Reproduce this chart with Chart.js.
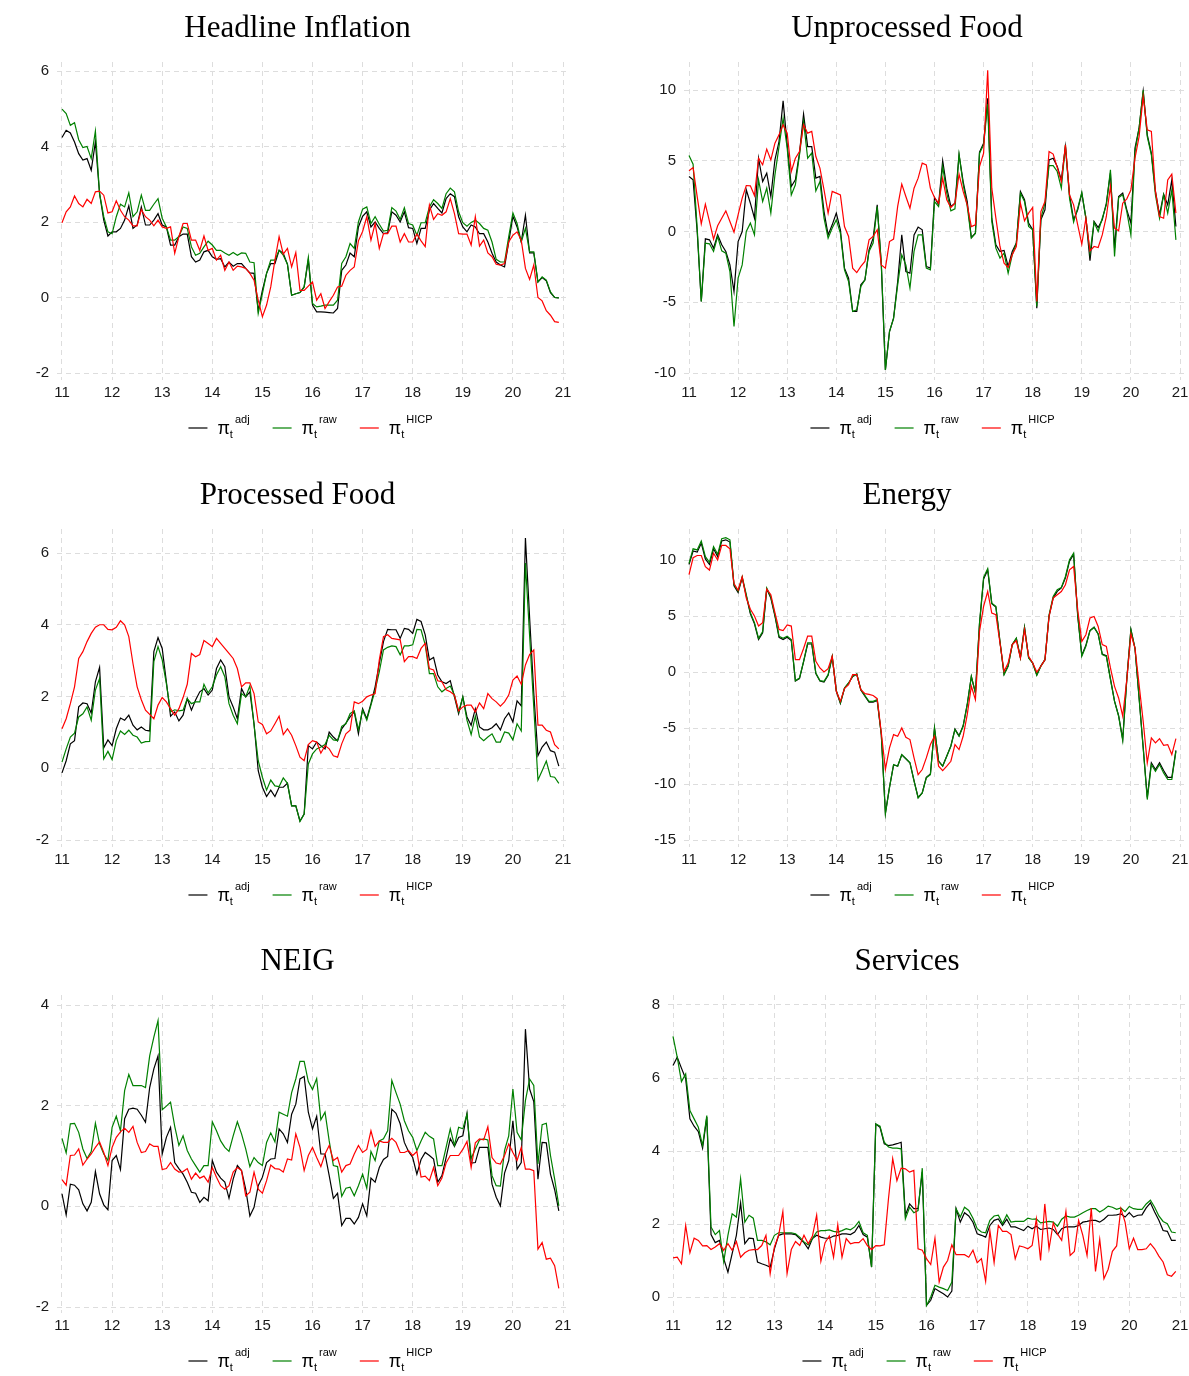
<!DOCTYPE html>
<html>
<head>
<meta charset="utf-8">
<script src="https://cdn.jsdelivr.net/npm/chart.js@4.4.1/dist/chart.umd.min.js"></script>
<style>
  html, body { margin: 0; padding: 0; background: #ffffff; }
  body { width: 1189px; height: 1376px; position: relative; overflow: hidden; }
  .panel { position: absolute; }
  .panel canvas { display: block; }
</style>
</head>
<body>
<div class="panel" style="left:0px;top:0px;"><canvas id="p0" width="595" height="443"></canvas></div>
<div class="panel" style="left:625px;top:0px;"><canvas id="p1" width="564" height="443"></canvas></div>
<div class="panel" style="left:0px;top:467px;"><canvas id="p2" width="595" height="443"></canvas></div>
<div class="panel" style="left:625px;top:467px;"><canvas id="p3" width="564" height="443"></canvas></div>
<div class="panel" style="left:0px;top:933px;"><canvas id="p4" width="595" height="443"></canvas></div>
<div class="panel" style="left:625px;top:933px;"><canvas id="p5" width="564" height="443"></canvas></div>
<script>
// Monthly year-on-year rates, Jan 2011 .. Dec 2020 (120 months each)
const startYear = 11;
const yearTicks = [11, 12, 13, 14, 15, 16, 17, 18, 19, 20, 21];

// ---- Headline inflation ----
const headlineAdj = [
  4.24, 4.43, 4.36, 4.12, 3.81, 3.64, 3.68, 3.37, 4.12, 2.75, 2.05, 1.63,
  1.74, 1.74, 1.83, 2.05, 2.43, 1.83, 1.92, 2.40, 1.92, 1.92, 2.05, 2.22,
  1.92, 1.87, 1.39, 1.39, 1.61, 1.68, 1.68, 1.08, 0.94, 0.99, 1.21, 1.25,
  1.08, 1.01, 1.03, 0.81, 0.94, 0.83, 0.90, 0.90, 0.77, 0.65, 0.64, -0.35,
  0.19, 0.64, 0.90, 0.90, 1.25, 1.17, 0.88, 0.06, 0.10, 0.13, 0.28, 1.00,
  -0.20, -0.38, -0.38, -0.39, -0.40, -0.41, -0.29, 0.72, 0.86, 1.18, 1.08, 1.87,
  2.15, 2.27, 1.87, 2.00, 1.83, 1.69, 1.71, 2.27, 2.18, 2.00, 2.27, 1.85,
  1.83, 1.43, 1.83, 1.83, 2.31, 2.49, 2.36, 2.24, 2.62, 2.75, 2.67, 2.14,
  1.87, 1.74, 1.92, 1.87, 1.69, 1.69, 1.47, 1.17, 0.94, 0.86, 0.81, 1.47,
  2.15, 1.87, 1.47, 2.18, 1.18, 1.18, 0.41, 0.53, 0.44, 0.13, 0.00, -0.01
];
const headlineRaw = [
  4.99, 4.87, 4.56, 4.63, 4.18, 3.97, 4.00, 3.68, 4.41, 2.75, 2.14, 1.74,
  1.69, 2.14, 2.47, 2.40, 2.77, 2.14, 2.27, 2.71, 2.31, 2.31, 2.47, 2.62,
  2.10, 1.87, 1.52, 1.52, 1.62, 1.87, 1.83, 1.34, 1.12, 1.17, 1.34, 1.49,
  1.39, 1.25, 1.25, 1.18, 1.12, 1.19, 1.12, 1.18, 1.17, 0.94, 0.92, -0.42,
  0.10, 0.64, 0.99, 0.99, 1.25, 1.12, 0.88, 0.06, 0.10, 0.13, 0.28, 1.06,
  -0.16, -0.25, -0.23, -0.20, -0.20, -0.20, -0.07, 0.90, 1.08, 1.43, 1.30, 2.00,
  2.34, 2.40, 1.96, 2.14, 1.94, 1.76, 1.78, 2.38, 2.29, 2.07, 2.38, 1.96,
  1.92, 1.65, 1.98, 1.98, 2.40, 2.59, 2.49, 2.36, 2.75, 2.90, 2.80, 2.27,
  1.98, 1.89, 1.99, 2.05, 1.96, 1.83, 1.78, 1.47, 1.01, 0.94, 0.94, 1.61,
  2.24, 1.96, 1.47, 1.83, 1.21, 1.21, 0.41, 0.55, 0.46, 0.15, 0.00, -0.01
];
const headlineHicp = [
  1.98, 2.27, 2.40, 2.69, 2.49, 2.40, 2.60, 2.49, 2.80, 2.82, 2.71, 2.24,
  2.27, 2.56, 2.31, 2.14, 2.05, 1.90, 1.90, 2.33, 2.14, 2.05, 1.90, 2.05,
  1.87, 1.83, 1.87, 1.17, 1.61, 1.96, 1.96, 1.52, 1.52, 1.25, 1.63, 1.25,
  1.30, 0.99, 1.12, 0.72, 0.94, 0.72, 0.83, 0.81, 0.77, 0.64, 0.46, -0.07,
  -0.51, -0.20, 0.28, 0.99, 1.61, 1.15, 1.30, 0.81, 1.19, 0.19, 0.19, 0.30,
  0.41, -0.07, 0.10, -0.29, -0.11, 0.06, 0.28, 0.30, 0.59, 0.72, 0.81, 1.50,
  1.75, 2.14, 1.52, 1.96, 1.30, 1.69, 1.69, 1.89, 1.89, 1.47, 1.69, 1.47,
  1.47, 1.68, 1.50, 1.35, 2.45, 2.07, 2.22, 2.18, 2.27, 2.62, 2.22, 1.69,
  1.68, 1.68, 1.39, 2.14, 1.36, 1.52, 1.18, 1.08, 0.88, 0.86, 0.90, 1.47,
  1.65, 1.74, 1.52, 0.77, 0.48, 0.86, 0.00, -0.09, -0.35, -0.47, -0.64, -0.66
];
const headlineTicks = [-2, 0, 2, 4, 6];

// ---- Unprocessed food ----
const unprocAdj = [
  3.89, 3.65, 0.00, -4.95, -0.52, -0.59, -1.18, -0.24, -0.94, -1.41, -2.36, -4.24,
  -0.71, 0.00, 2.94, 2.00, 0.94, 5.18, 3.53, 4.12, 2.47, 5.06, 6.36, 9.23,
  6.12, 3.18, 3.65, 5.54, 8.29, 6.00, 6.00, 3.77, 3.89, 1.41, -0.24, 0.47,
  1.30, 0.12, -2.59, -3.30, -5.65, -5.65, -3.77, -3.42, -1.30, -0.47, 1.88, -2.36,
  -9.78, -7.07, -6.12, -3.53, -0.24, -2.83, -2.94, -0.24, 0.31, 0.12, -2.47, -2.59,
  2.40, 1.90, 5.00, 3.06, 1.77, 2.00, 5.42, 3.53, 2.12, -0.42, -0.12, 5.60,
  6.24, 9.42, 0.94, -0.94, -1.41, -1.34, -2.47, -1.41, -0.82, 2.83, 2.24, 0.59,
  0.12, -5.42, 0.82, 1.53, 5.06, 5.18, 4.59, 3.65, 6.00, 2.59, 0.82, 1.53,
  2.71, 0.94, -2.07, 0.71, 0.28, 0.82, 2.00, 4.12, -1.18, 2.47, 2.71, 1.53,
  0.59, 5.89, 7.30, 9.90, 6.83, 5.54, 2.83, 1.18, 2.64, 1.88, 3.65, 0.35
];
const unprocRaw = [
  5.37, 4.76, 0.24, -4.95, -0.82, -0.87, -1.41, -0.35, -1.37, -1.53, -2.83, -6.71,
  -3.30, -2.36, 0.00, 0.59, -0.24, 3.65, 2.12, 3.06, 1.30, 4.00, 6.00, 8.00,
  5.89, 2.59, 3.30, 5.42, 7.77, 5.18, 5.54, 2.87, 3.53, 0.94, -0.47, 0.24,
  0.82, -0.12, -2.71, -3.53, -5.65, -5.54, -3.89, -3.42, -1.41, -0.82, 1.77, -2.24,
  -9.78, -7.07, -6.12, -3.77, -1.65, -2.36, -4.00, -1.41, -0.24, -0.24, -2.59, -2.71,
  2.12, 1.77, 4.59, 2.71, 1.46, 1.60, 5.47, 3.35, 1.77, -0.47, -0.12, 5.54,
  6.12, 9.00, 0.71, -1.18, -1.88, -1.53, -2.94, -1.65, -0.82, 2.71, 2.12, 0.35,
  0.12, -5.30, 0.94, 2.00, 4.66, 4.66, 4.24, 3.06, 6.12, 2.36, 0.66, 1.65,
  2.76, 0.94, -1.53, 0.66, 0.00, 0.94, 1.88, 4.36, -1.77, 2.40, 2.59, 1.41,
  -0.24, 5.65, 7.30, 10.00, 6.71, 5.42, 2.59, 0.94, 2.59, 1.30, 2.94, -0.59
];
const unprocHicp = [
  4.29, 4.52, 2.47, 0.54, 1.93, 0.71, -0.54, 0.40, 0.94, 1.46, 0.71, -0.05,
  1.18, 2.36, 3.25, 3.23, 2.54, 5.18, 4.71, 5.82, 5.06, 6.24, 6.83, 7.54,
  6.95, 4.24, 5.18, 5.65, 7.54, 6.95, 7.07, 5.30, 4.48, 2.94, 1.30, 2.83,
  2.71, 2.59, 0.35, -0.35, -2.59, -2.90, -2.47, -2.12, -0.59, -0.35, 0.12, -2.36,
  -2.59, -0.71, -0.54, 1.77, 3.35, 2.47, 1.65, 3.06, 3.77, 4.83, 4.71, 3.06,
  2.40, 2.00, 3.77, 2.24, 1.70, 2.00, 4.05, 2.83, 1.88, 0.35, 0.47, 4.59,
  5.54, 11.40, 3.06, 0.94, -1.06, -2.24, -2.54, -1.65, -1.06, 2.00, 0.75, 1.30,
  1.70, -4.95, 1.41, 2.12, 5.65, 5.47, 4.52, 3.53, 6.12, 2.59, 1.88, 0.47,
  -0.90, 0.94, -1.37, -1.06, -1.13, -0.24, 1.06, 3.18, 0.24, 0.05, 2.00, 2.31,
  2.94, 5.18, 6.71, 9.54, 7.18, 7.07, 2.83, 1.06, 0.94, 3.65, 4.05, 1.30
];
const unprocTicks = [-10, -5, 0, 5, 10];

// ---- Processed food ----
const procAdj = [
  -0.13, 0.21, 0.68, 0.77, 1.71, 1.82, 1.80, 1.54, 2.41, 2.81, 0.57, 0.79,
  0.63, 1.10, 1.40, 1.34, 1.48, 1.20, 1.07, 1.15, 1.06, 1.04, 3.25, 3.64,
  3.34, 2.41, 1.45, 1.57, 1.32, 1.48, 1.94, 1.62, 1.90, 2.13, 2.22, 2.04,
  2.18, 2.78, 3.02, 2.83, 1.99, 1.71, 1.38, 2.22, 1.99, 2.13, 1.24, -0.07,
  -0.53, -0.79, -0.61, -0.79, -0.53, -0.53, -0.42, -1.05, -1.05, -1.47, -1.28, 0.63,
  0.54, 0.73, 0.63, 0.54, 1.01, 0.87, 0.76, 1.10, 1.26, 1.43, 1.57, 0.96,
  1.66, 1.38, 1.80, 2.27, 2.92, 3.53, 3.87, 3.86, 3.86, 3.62, 3.90, 3.87,
  3.76, 4.15, 4.09, 3.72, 3.02, 3.09, 2.60, 2.41, 2.36, 2.44, 1.99, 1.52,
  1.99, 1.43, 1.20, 1.66, 1.15, 1.07, 1.07, 1.13, 1.24, 1.07, 1.38, 1.54,
  1.29, 1.88, 1.74, 6.42, 4.20, 2.10, 0.35, 0.59, 0.73, 0.49, 0.45, 0.06
];
const procRaw = [
  0.17, 0.54, 0.87, 0.98, 1.43, 1.52, 1.71, 1.34, 2.18, 2.50, 0.26, 0.47,
  0.24, 0.77, 1.04, 0.94, 1.06, 0.92, 0.87, 0.70, 0.74, 0.75, 2.97, 3.39,
  3.02, 2.36, 1.57, 1.63, 1.60, 1.62, 1.94, 1.80, 1.85, 1.85, 2.34, 2.10,
  2.27, 2.60, 2.83, 2.55, 1.80, 1.48, 1.24, 2.08, 1.99, 2.30, 1.20, 0.21,
  -0.25, -0.61, -0.33, -0.49, -0.51, -0.27, -0.42, -1.05, -1.05, -1.48, -1.28, 0.12,
  0.40, 0.54, 0.59, 0.66, 0.92, 0.79, 0.77, 1.17, 1.24, 1.52, 1.60, 1.07,
  1.62, 1.34, 1.76, 2.18, 2.69, 3.30, 3.37, 3.41, 3.39, 3.16, 3.41, 3.41,
  3.44, 3.87, 3.86, 3.44, 2.64, 2.64, 2.27, 2.13, 2.22, 2.29, 2.04, 1.57,
  1.99, 1.34, 0.94, 1.45, 0.87, 0.77, 0.87, 0.96, 0.73, 0.73, 1.01, 0.98,
  0.79, 1.24, 1.04, 5.72, 3.70, 1.70, -0.33, -0.07, 0.20, -0.23, -0.25, -0.42
];
const procHicp = [
  1.10, 1.38, 1.80, 2.27, 3.06, 3.25, 3.53, 3.76, 3.93, 4.00, 4.00, 3.87,
  3.86, 3.93, 4.11, 4.00, 3.67, 2.92, 2.27, 1.91, 1.62, 1.50, 1.38, 1.76,
  1.97, 1.85, 1.66, 1.48, 1.66, 1.97, 2.34, 3.20, 3.11, 3.17, 3.56, 3.48,
  3.39, 3.62, 3.48, 3.34, 3.20, 3.06, 2.78, 2.27, 2.38, 2.38, 2.08, 1.29,
  1.22, 0.96, 1.04, 1.24, 1.45, 0.94, 1.10, 0.92, 0.63, 0.31, 0.21, 0.66,
  0.77, 0.73, 0.42, 0.63, 0.54, 0.35, 0.31, 0.68, 0.96, 1.06, 1.85, 1.80,
  1.87, 1.99, 2.04, 2.08, 3.02, 3.67, 3.72, 3.62, 3.60, 3.58, 2.97, 3.11,
  3.11, 3.06, 3.34, 3.48, 2.78, 2.74, 2.44, 2.41, 2.19, 2.13, 2.04, 1.60,
  1.71, 1.76, 1.76, 1.57, 1.82, 1.66, 2.08, 1.94, 1.85, 1.73, 1.85, 2.04,
  2.46, 2.57, 2.34, 2.88, 3.17, 3.30, 1.20, 1.20, 1.06, 1.01, 0.66, 0.54
];
const procTicks = [-2, 0, 2, 4, 6];

// ---- Energy ----
const energyAdj = [
  9.6, 10.8, 10.7, 11.5, 10.1, 9.6, 11.0, 10.3, 11.7, 11.8, 11.6, 7.7,
  7.1, 8.4, 6.8, 5.2, 4.3, 2.9, 3.5, 7.4, 6.6, 5.0, 3.1, 2.9,
  3.1, 2.8, -0.8, -0.6, 0.9, 2.5, 2.5, -0.15, -0.8, -0.9, -0.3, 1.35,
  -1.7, -2.8, -1.45, -1.0, -0.4, -0.2, -1.6, -2.15, -2.7, -2.7, -2.55, -5.6,
  -12.6, -10.3, -8.3, -8.4, -7.4, -7.75, -8.1, -9.7, -11.2, -10.8, -9.4, -9.1,
  -5.0, -7.95, -8.4, -7.5, -6.6, -5.1, -5.7, -4.8, -2.9, -0.4, -1.85, 4.3,
  8.3, 9.1, 6.1, 5.8, 2.7, -0.2, 0.55, 2.45, 3.0, 1.3, 4.0, 1.3,
  0.8, -0.25, 0.55, 1.1, 5.0, 6.6, 7.2, 7.5, 8.4, 9.9, 10.5, 5.0,
  1.5, 2.4, 3.7, 4.0, 3.4, 1.6, 1.45, -0.6, -2.6, -3.9, -6.0, -0.6,
  3.8, 2.1, -2.3, -6.7, -11.2, -8.1, -8.7, -8.1, -8.8, -9.4, -9.4, -7.0
];
const energyRaw = [
  9.7, 11.0, 10.9, 11.7, 10.3, 9.8, 11.2, 10.5, 11.9, 12.0, 11.8, 7.8,
  7.2, 8.5, 6.9, 5.3, 4.4, 3.0, 3.6, 7.5, 6.7, 5.1, 3.2, 3.0,
  3.2, 2.9, -0.77, -0.54, 0.95, 2.6, 2.6, -0.09, -0.77, -0.83, -0.24, 1.4,
  -1.66, -2.76, -1.43, -0.98, -0.39, -0.18, -1.58, -2.11, -2.62, -2.62, -2.47, -5.59,
  -12.66, -10.3, -8.26, -8.41, -7.37, -7.73, -8.1, -9.75, -11.24, -10.79, -9.45, -9.16,
  -4.99, -7.97, -8.41, -7.52, -6.63, -5.14, -5.74, -4.85, -2.91, -0.39, -1.87, 4.37,
  8.44, 9.22, 6.15, 5.86, 2.73, -0.24, 0.51, 2.44, 3.03, 1.25, 3.98, 1.25,
  0.8, -0.3, 0.51, 1.1, 5.11, 6.75, 7.34, 7.55, 8.53, 10.02, 10.61, 5.11,
  1.4, 2.29, 3.69, 3.98, 3.39, 1.55, 1.4, -0.68, -2.62, -3.95, -6.12, -0.68,
  3.78, 2.14, -2.32, -6.78, -11.39, -8.26, -8.86, -8.26, -9.01, -9.6, -9.6, -7.08
];
const energyHicp = [
  8.7, 10.2, 10.4, 10.4, 9.4, 9.1, 10.6, 10.0, 11.3, 11.3, 11.0, 7.9,
  7.3, 8.5, 6.6, 5.6, 5.0, 4.1, 4.4, 7.4, 6.9, 5.3, 3.8, 3.7,
  4.2, 4.1, 1.1, 1.1, 2.1, 3.2, 3.2, 0.95, 0.36, 0.0, 0.3, 1.4,
  -1.72, -2.62, -1.49, -1.13, -0.24, -0.24, -1.58, -1.93, -2.0, -2.1, -2.38, -5.44,
  -8.7, -6.78, -5.59, -5.74, -4.99, -5.83, -6.03, -7.67, -9.16, -8.71, -7.67, -6.48,
  -5.74, -8.41, -8.8, -8.41, -7.97, -6.48, -6.93, -5.74, -3.8, -1.28, -2.47, 3.63,
  5.86, 7.19, 5.26, 5.11, 2.59, 0.06, 0.8, 2.44, 2.79, 1.25, 3.78, 1.4,
  0.8, 0.0, 0.51, 1.1, 4.96, 6.6, 6.9, 7.19, 7.79, 9.13, 9.42, 5.56,
  2.73, 3.33, 4.82, 4.96, 4.07, 2.44, 2.29, 0.36, -1.28, -2.32, -3.95, -0.68,
  3.39, 2.14, -1.13, -4.4, -8.12, -5.89, -6.33, -5.95, -6.54, -6.48, -7.37, -5.95
];
const energyTicks = [-15, -10, -5, 0, 5, 10];

// ---- Non-energy industrial goods ----
const neigAdj = [
  0.25, -0.17, 0.44, 0.42, 0.33, 0.05, -0.09, 0.08, 0.69, 0.25, 0.03, -0.07,
  0.91, 1.01, 0.73, 1.74, 1.93, 1.95, 1.93, 1.81, 1.67, 2.36, 2.73, 2.99,
  1.04, 1.37, 1.57, 0.87, 0.75, 0.64, 0.48, 0.28, 0.26, 0.08, 0.18, 0.11,
  0.91, 0.68, 0.56, 0.48, 0.16, 0.54, 0.81, 0.71, 0.34, -0.19, -0.02, 0.41,
  0.58, 0.87, 0.94, 0.95, 1.54, 1.44, 1.27, 1.83, 2.03, 2.53, 2.58, 1.87,
  1.54, 1.79, 1.04, 1.04, 0.61, 0.16, 0.26, -0.38, -0.24, -0.24, -0.35, -0.22,
  0.05, -0.19, 0.56, 0.48, 0.77, 0.93, 0.99, 1.93, 1.85, 1.64, 1.27, 1.09,
  0.97, 0.64, 0.93, 1.07, 1.01, 0.94, 0.48, 0.61, 0.97, 1.35, 1.19, 1.37,
  1.40, 1.85, 0.86, 0.87, 1.17, 1.17, 1.17, 0.44, 0.18, 0.01, 0.66, 0.91,
  1.70, 0.74, 0.87, 3.52, 2.33, 2.08, 0.54, 1.27, 1.26, 0.64, 0.33, -0.09
];
const neigRaw = [
  1.35, 1.06, 1.64, 1.65, 1.47, 1.14, 0.95, 1.09, 1.65, 1.24, 1.04, 0.91,
  1.57, 1.79, 1.50, 2.30, 2.62, 2.40, 2.40, 2.40, 2.36, 2.99, 3.36, 3.69,
  1.92, 1.99, 2.07, 1.59, 1.21, 1.40, 1.11, 0.94, 0.81, 0.68, 0.81, 0.81,
  1.68, 1.50, 1.30, 1.17, 1.09, 1.40, 1.68, 1.44, 1.14, 0.79, 0.97, 0.87,
  0.81, 1.27, 1.46, 1.28, 1.87, 1.83, 1.79, 2.26, 2.53, 2.88, 2.88, 2.48,
  2.32, 2.54, 1.72, 1.87, 1.30, 0.81, 0.79, 0.20, 0.36, 0.38, 0.21, 0.41,
  0.64, 0.36, 1.09, 0.91, 1.30, 1.34, 1.50, 2.50, 2.26, 2.03, 1.70, 1.50,
  1.37, 1.11, 1.30, 1.47, 1.39, 1.34, 0.81, 0.81, 1.17, 1.54, 1.21, 1.57,
  1.54, 1.83, 0.95, 1.14, 1.32, 1.34, 1.32, 0.61, 0.41, 0.40, 1.11, 1.40,
  2.33, 1.47, 1.32, 2.10, 2.53, 2.40, 0.84, 1.62, 1.65, 1.01, 0.54, 0.01
];
const neigHicp = [
  0.53, 0.42, 1.01, 1.02, 1.14, 0.82, 0.94, 1.04, 1.17, 1.28, 1.07, 0.81,
  1.17, 1.37, 1.48, 1.55, 1.47, 1.59, 1.27, 1.07, 1.09, 1.24, 1.19, 1.19,
  0.73, 0.75, 0.87, 0.74, 0.68, 0.69, 0.75, 0.54, 0.66, 0.56, 0.60, 0.48,
  0.77, 0.58, 0.41, 0.34, 0.41, 0.68, 0.77, 0.71, 0.21, 0.28, 0.68, 0.34,
  0.26, 0.51, 0.82, 0.75, 0.74, 0.68, 0.94, 0.92, 1.44, 1.17, 0.71, 1.01,
  1.17, 0.97, 0.79, 1.04, 1.21, 0.91, 0.97, 0.68, 0.81, 0.84, 1.04, 1.21,
  1.07, 1.13, 1.50, 1.19, 1.30, 1.27, 1.27, 1.35, 1.27, 1.07, 1.07, 1.11,
  1.01, 1.09, 0.58, 0.60, 0.51, 0.77, 0.41, 0.56, 0.86, 1.01, 1.01, 1.01,
  1.13, 1.29, 0.77, 1.26, 1.34, 1.32, 1.58, 0.97, 0.86, 0.84, 1.01, 1.24,
  1.07, 0.91, 1.17, 0.74, 0.74, 0.71, -0.85, -0.72, -1.05, -1.03, -1.18, -1.63
];
const neigTicks = [-2, 0, 2, 4];

// ---- Services ----
const servAdj = [
  6.34, 6.57, 6.27, 5.98, 4.88, 4.68, 4.53, 4.08, 4.93, 1.71, 1.49, 1.55,
  1.05, 0.68, 1.19, 1.69, 2.58, 1.46, 1.61, 1.60, 0.96, 0.91, 0.87, 0.82,
  1.32, 1.69, 1.73, 1.73, 1.73, 1.71, 1.60, 1.49, 1.32, 1.60, 1.69, 1.64,
  1.61, 1.61, 1.67, 1.69, 1.73, 1.73, 1.71, 1.78, 1.96, 1.71, 1.64, 0.82,
  4.74, 4.65, 4.20, 4.15, 4.17, 4.20, 4.24, 2.24, 2.55, 2.42, 2.42, 3.42,
  -0.23, -0.09, 0.23, 0.16, 0.09, 0.00, 0.16, 2.42, 2.05, 2.31, 2.22, 2.05,
  1.73, 1.69, 1.64, 1.96, 2.10, 2.14, 1.96, 2.13, 1.92, 1.92, 1.87, 1.82,
  1.94, 1.87, 1.94, 1.85, 1.87, 1.89, 1.85, 1.71, 1.87, 1.92, 1.92, 1.92,
  1.96, 2.05, 2.07, 2.10, 2.10, 2.05, 2.13, 2.24, 2.24, 2.25, 2.28, 2.19,
  2.31, 2.19, 2.24, 2.25, 2.44, 2.58, 2.33, 2.10, 1.82, 1.80, 1.55, 1.55
];
const servRaw = [
  7.14, 6.57, 5.90, 6.11, 5.11, 4.88, 4.65, 4.15, 4.97, 1.92, 1.71, 1.82,
  0.96, 1.69, 2.28, 2.19, 3.24, 2.05, 2.24, 2.16, 1.55, 1.55, 1.51, 1.43,
  1.69, 1.76, 1.76, 1.76, 1.76, 1.73, 1.64, 1.51, 1.43, 1.60, 1.78, 1.82,
  1.82, 1.84, 1.80, 1.78, 1.82, 1.87, 1.84, 1.92, 2.07, 1.76, 1.69, 0.82,
  4.74, 4.68, 4.24, 4.11, 4.08, 4.08, 4.06, 2.14, 2.46, 2.31, 2.37, 3.53,
  -0.23, 0.00, 0.32, 0.27, 0.23, 0.18, 0.41, 2.42, 2.19, 2.46, 2.37, 2.16,
  1.87, 1.78, 1.76, 2.10, 2.22, 2.24, 2.01, 2.25, 2.05, 2.07, 2.07, 2.07,
  2.16, 2.13, 2.14, 2.03, 2.05, 2.07, 2.05, 1.94, 2.13, 2.22, 2.19, 2.19,
  2.24, 2.31, 2.37, 2.42, 2.42, 2.33, 2.40, 2.49, 2.46, 2.40, 2.44, 2.34,
  2.48, 2.42, 2.40, 2.40, 2.55, 2.65, 2.46, 2.22, 2.07, 2.01, 1.78, 1.76
];
const servHicp = [
  1.07, 1.09, 0.91, 1.96, 1.21, 1.61, 1.55, 1.40, 1.41, 1.30, 1.37, 1.46,
  1.28, 1.46, 1.28, 1.52, 1.09, 1.21, 1.28, 1.30, 1.30, 1.41, 1.69, 0.64,
  1.37, 1.69, 2.34, 0.64, 1.30, 1.52, 1.41, 1.69, 1.46, 1.67, 2.24, 0.98,
  1.49, 1.67, 1.09, 1.98, 1.09, 1.60, 1.46, 1.49, 1.49, 1.60, 1.41, 1.30,
  1.41, 1.40, 1.43, 2.69, 3.79, 3.19, 3.53, 3.51, 3.42, 3.47, 1.32, 1.28,
  1.05, 0.89, 1.61, 0.41, 0.82, 1.00, 1.43, 1.16, 1.16, 1.16, 1.09, 1.28,
  0.94, 1.05, 0.43, 1.82, 0.94, 1.96, 1.80, 1.80, 1.71, 1.05, 1.40, 1.37,
  1.32, 1.41, 2.14, 1.00, 2.55, 1.32, 2.03, 1.73, 1.55, 2.34, 1.14, 1.25,
  2.10, 1.69, 1.14, 2.44, 0.70, 1.58, 0.50, 0.76, 1.25, 1.40, 2.42, 2.05,
  1.32, 1.61, 1.30, 1.30, 1.32, 1.46, 1.32, 1.12, 0.96, 0.61, 0.57, 0.70
];
const servTicks = [0, 2, 4, 6, 8];

// ---- Panel setup ----
const COLORS = { adj: '#000000', raw: '#008000', hicp: '#ff0000' };
const SANS = '"Liberation Sans", Arial, sans-serif';
const SERIF = '"Liberation Serif", "Times New Roman", serif';
const AREA_TOP = 62, AREA_BOTTOM = 380, X_AXIS_H = 30;

// calib: two tick values and the pixel rows they sit on inside the panel
const panels = [
  { canvas: 'p0', title: 'Headline Inflation', adj: headlineAdj, raw: headlineRaw, hicp: headlineHicp,
    ticks: headlineTicks, calib: [6, 71, -2, 373], areaLeft: 57, areaRight: 568 },
  { canvas: 'p1', title: 'Unprocessed Food', adj: unprocAdj, raw: unprocRaw, hicp: unprocHicp,
    ticks: unprocTicks, calib: [10, 90, -10, 373], areaLeft: 59, areaRight: 560 },
  { canvas: 'p2', title: 'Processed Food', adj: procAdj, raw: procRaw, hicp: procHicp,
    ticks: procTicks, calib: [6, 86, -2, 373], areaLeft: 57, areaRight: 568 },
  { canvas: 'p3', title: 'Energy', adj: energyAdj, raw: energyRaw, hicp: energyHicp,
    ticks: energyTicks, calib: [10, 93, -15, 373], areaLeft: 59, areaRight: 560 },
  { canvas: 'p4', title: 'NEIG', adj: neigAdj, raw: neigRaw, hicp: neigHicp,
    ticks: neigTicks, calib: [4, 72, -2, 374], areaLeft: 57, areaRight: 568 },
  { canvas: 'p5', title: 'Services', adj: servAdj, raw: servRaw, hicp: servHicp,
    ticks: servTicks, calib: [8, 72, 0, 364], areaLeft: 43, areaRight: 560 }
];

function toPoints(values) {
  return values.map((v, i) => ({ x: startYear + i / 12, y: v }));
}

// Serif panel heading, centred over the whole canvas
const headingPlugin = {
  id: 'heading',
  afterDraw(chart, args, opts) {
    const ctx = chart.ctx;
    ctx.save();
    ctx.font = '31px ' + SERIF;
    ctx.fillStyle = '#000';
    ctx.textAlign = 'center';
    ctx.textBaseline = 'alphabetic';
    ctx.fillText(opts.text, chart.width / 2, 37);
    ctx.restore();
  }
};

// Legend with pi_t^label entries, centred under the plot area
const piLegendPlugin = {
  id: 'piLegend',
  afterDraw(chart, args, opts) {
    const ctx = chart.ctx;
    const area = chart.chartArea;
    const items = [
      { color: COLORS.adj, sup: 'adj' },
      { color: COLORS.raw, sup: 'raw' },
      { color: COLORS.hicp, sup: 'HICP' }
    ];
    const bigFont = '18px ' + SANS, smallFont = '11px ' + SANS;
    const sample = 19, gapSample = 10, gapItem = 23;
    ctx.save();
    const parts = items.map(it => {
      ctx.font = bigFont;
      const wp = ctx.measureText('π').width;
      ctx.font = smallFont;
      const wt = ctx.measureText('t').width;
      const ws = ctx.measureText(it.sup).width;
      return { it, wp, wt, ws, w: sample + gapSample + wp + wt + 2 + ws };
    });
    const total = parts.reduce((s, p) => s + p.w, 0) + gapItem * (parts.length - 1);
    let x = (area.left + area.right) / 2 - 2 - total / 2;
    const y = 428;
    parts.forEach(p => {
      ctx.strokeStyle = p.it.color;
      ctx.lineWidth = 1.2;
      ctx.beginPath();
      ctx.moveTo(x, y);
      ctx.lineTo(x + sample, y);
      ctx.stroke();
      let tx = x + sample + gapSample;
      ctx.fillStyle = '#000';
      ctx.textAlign = 'left';
      ctx.textBaseline = 'alphabetic';
      ctx.font = bigFont;
      ctx.fillText('π', tx, y + 6);
      tx += p.wp;
      ctx.font = smallFont;
      ctx.fillText('t', tx, y + 10);
      tx += p.wt + 2;
      ctx.fillText(p.it.sup, tx, y - 5);
      x += p.w + gapItem;
    });
    ctx.restore();
  }
};

panels.forEach(p => {
  const canvas = document.getElementById(p.canvas);
  const W = canvas.width, H = canvas.height;
  const [a, pa, b, pb] = p.calib;
  const perPx = (a - b) / (pb - pa);
  const yMax = a + (pa - AREA_TOP) * perPx;
  const yMin = b - (AREA_BOTTOM - pb) * perPx;
  const xPerPx = 10 / (p.areaRight - p.areaLeft - 10);
  const gridColor = '#dddddd';

  new Chart(canvas, {
    type: 'line',
    data: {
      datasets: [
        { label: 'adj', data: toPoints(p.adj), borderColor: COLORS.adj, order: 3 },
        { label: 'raw', data: toPoints(p.raw), borderColor: COLORS.raw, order: 2 },
        { label: 'HICP', data: toPoints(p.hicp), borderColor: COLORS.hicp, order: 1 }
      ]
    },
    options: {
      responsive: false,
      animation: false,
      devicePixelRatio: 1,
      parsing: false,
      normalized: true,
      elements: {
        line: { borderWidth: 1.2, tension: 0, fill: false },
        point: { radius: 0, hoverRadius: 0 }
      },
      layout: {
        padding: { left: 0, top: AREA_TOP, right: W - p.areaRight, bottom: H - AREA_BOTTOM - X_AXIS_H }
      },
      plugins: {
        legend: { display: false },
        title: { display: false },
        tooltip: { enabled: false },
        heading: { text: p.title },
        piLegend: {}
      },
      scales: {
        x: {
          type: 'linear',
          min: 11 - 5 * xPerPx,
          max: 21 + 5 * xPerPx,
          afterBuildTicks: axis => { axis.ticks = yearTicks.map(v => ({ value: v })); },
          afterFit: s => { s.height = X_AXIS_H; s.paddingLeft = 0; s.paddingRight = 0; },
          ticks: {
            autoSkip: false, maxRotation: 0, padding: 4, color: '#1a1a1a',
            font: { family: SANS, size: 15 },
            callback: v => String(v)
          },
          grid: { color: gridColor, lineWidth: 1, drawTicks: false },
          border: { display: false, dash: [5, 4] }
        },
        y: {
          type: 'linear',
          min: yMin,
          max: yMax,
          afterBuildTicks: axis => { axis.ticks = p.ticks.map(v => ({ value: v })); },
          afterFit: s => { s.width = p.areaLeft; s.paddingTop = 0; s.paddingBottom = 0; },
          ticks: {
            padding: 8, color: '#1a1a1a',
            font: { family: SANS, size: 15 },
            callback: v => String(v)
          },
          grid: { color: gridColor, lineWidth: 1, drawTicks: false },
          border: { display: false, dash: [5, 4] }
        }
      }
    },
    plugins: [headingPlugin, piLegendPlugin]
  });
});
</script>
</body>
</html>
